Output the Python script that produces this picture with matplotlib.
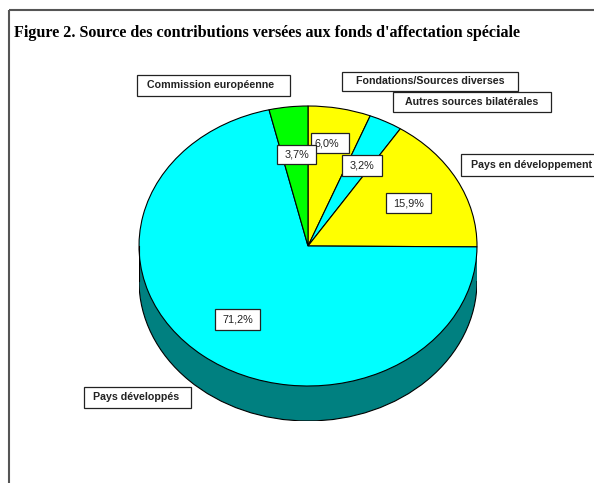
import matplotlib.pyplot as plt
from matplotlib.patches import Ellipse, Rectangle

# data (clockwise from 12 o'clock)
categories = [
    "Fondations/Sources diverses",
    "Autres sources bilatérales",
    "Pays en développement",
    "Pays développés",
    "Commission européenne",
]
shares = [6.0, 3.2, 15.9, 71.2, 3.7]
pct_labels = ["6,0%", "3,2%", "15,9%", "71,2%", "3,7%"]
colors = ["#FFFF00", "#00FFFF", "#FFFF00", "#00FFFF", "#00FF00"]

W, H = 594, 483
CX, CY, RX, RY, DEPTH = 308, 246, 169, 140, 35
SIDE = "#008080"

fig = plt.figure(figsize=(W / 100, H / 100), dpi=100, facecolor="white")

# pie axes: unit circle stretched into an ellipse
d = DEPTH / RY
pax = fig.add_axes([(CX - RX) / W, (H - (CY + RY + DEPTH)) / H,
                    2 * RX / W, (2 * RY + DEPTH) / H])
pax.add_patch(Ellipse((0, -d), 2, 2, facecolor=SIDE, edgecolor="black", lw=0.8))
pax.add_patch(Rectangle((-1, -d), 2, d, facecolor=SIDE, edgecolor="none"))
pax.plot([-1, -1], [0, -d], color="black", lw=0.8)
pax.plot([1, 1], [0, -d], color="black", lw=0.8)
pax.pie(shares, colors=colors, startangle=90, counterclock=False,
        wedgeprops=dict(edgecolor="black", linewidth=0.8))
pax.set_aspect("auto")
pax.set_xlim(-1, 1)
pax.set_ylim(-1 - d, 1)
pax.axis("off")

# overlay axes in pixel coordinates for frame, title and labels
ax = fig.add_axes([0, 0, 1, 1])
ax.set_xlim(0, W)
ax.set_ylim(H, 0)
ax.axis("off")
ax.patch.set_alpha(0)

ax.plot([9, W], [10, 10], color="#555555", lw=1.5, solid_capstyle="butt")
ax.plot([9, 9], [10, H], color="#555555", lw=1.5, solid_capstyle="butt")

ax.text(14, 33, "Figure 2. Source des contributions versées aux fonds d'affectation spéciale",
        family="Liberation Serif", weight="bold", fontsize=11.6, va="center", ha="left")

# box extents (x0, y0, x1, y1) in pixels, plus text x
pct_boxes = [(311, 133, 349, 153, 327), (342, 155, 382, 176, 362),
             (386, 193, 431, 213, 408.5), (215, 309, 260, 330, 237.5),
             (277, 145, 316, 164, 296.5)]
cat_boxes = [(342, 72, 518, 91, 430), (393, 92, 551, 112, 472),
             (461, 154, 610, 176, 532), (84, 387, 191, 408, 136),
             (137, 75, 290, 96, 211)]


def boxed(text, box, bold, size):
    x0, y0, x1, y1, tx = box
    ax.add_patch(Rectangle((x0, y0), x1 - x0, y1 - y0, facecolor="white",
                           edgecolor="#222222", lw=0.9))
    ax.text(tx, (y0 + y1) / 2, text, ha="center", va="center",
            family="Liberation Sans", weight="bold" if bold else "normal",
            fontsize=size, color="#222222")


for lab, box in zip(pct_labels, pct_boxes):
    boxed(lab, box, False, 7.8)

for cat, box in zip(categories, cat_boxes):
    boxed(cat, box, True, 7.7)

fig.savefig("out.png", dpi=100, facecolor="white")
